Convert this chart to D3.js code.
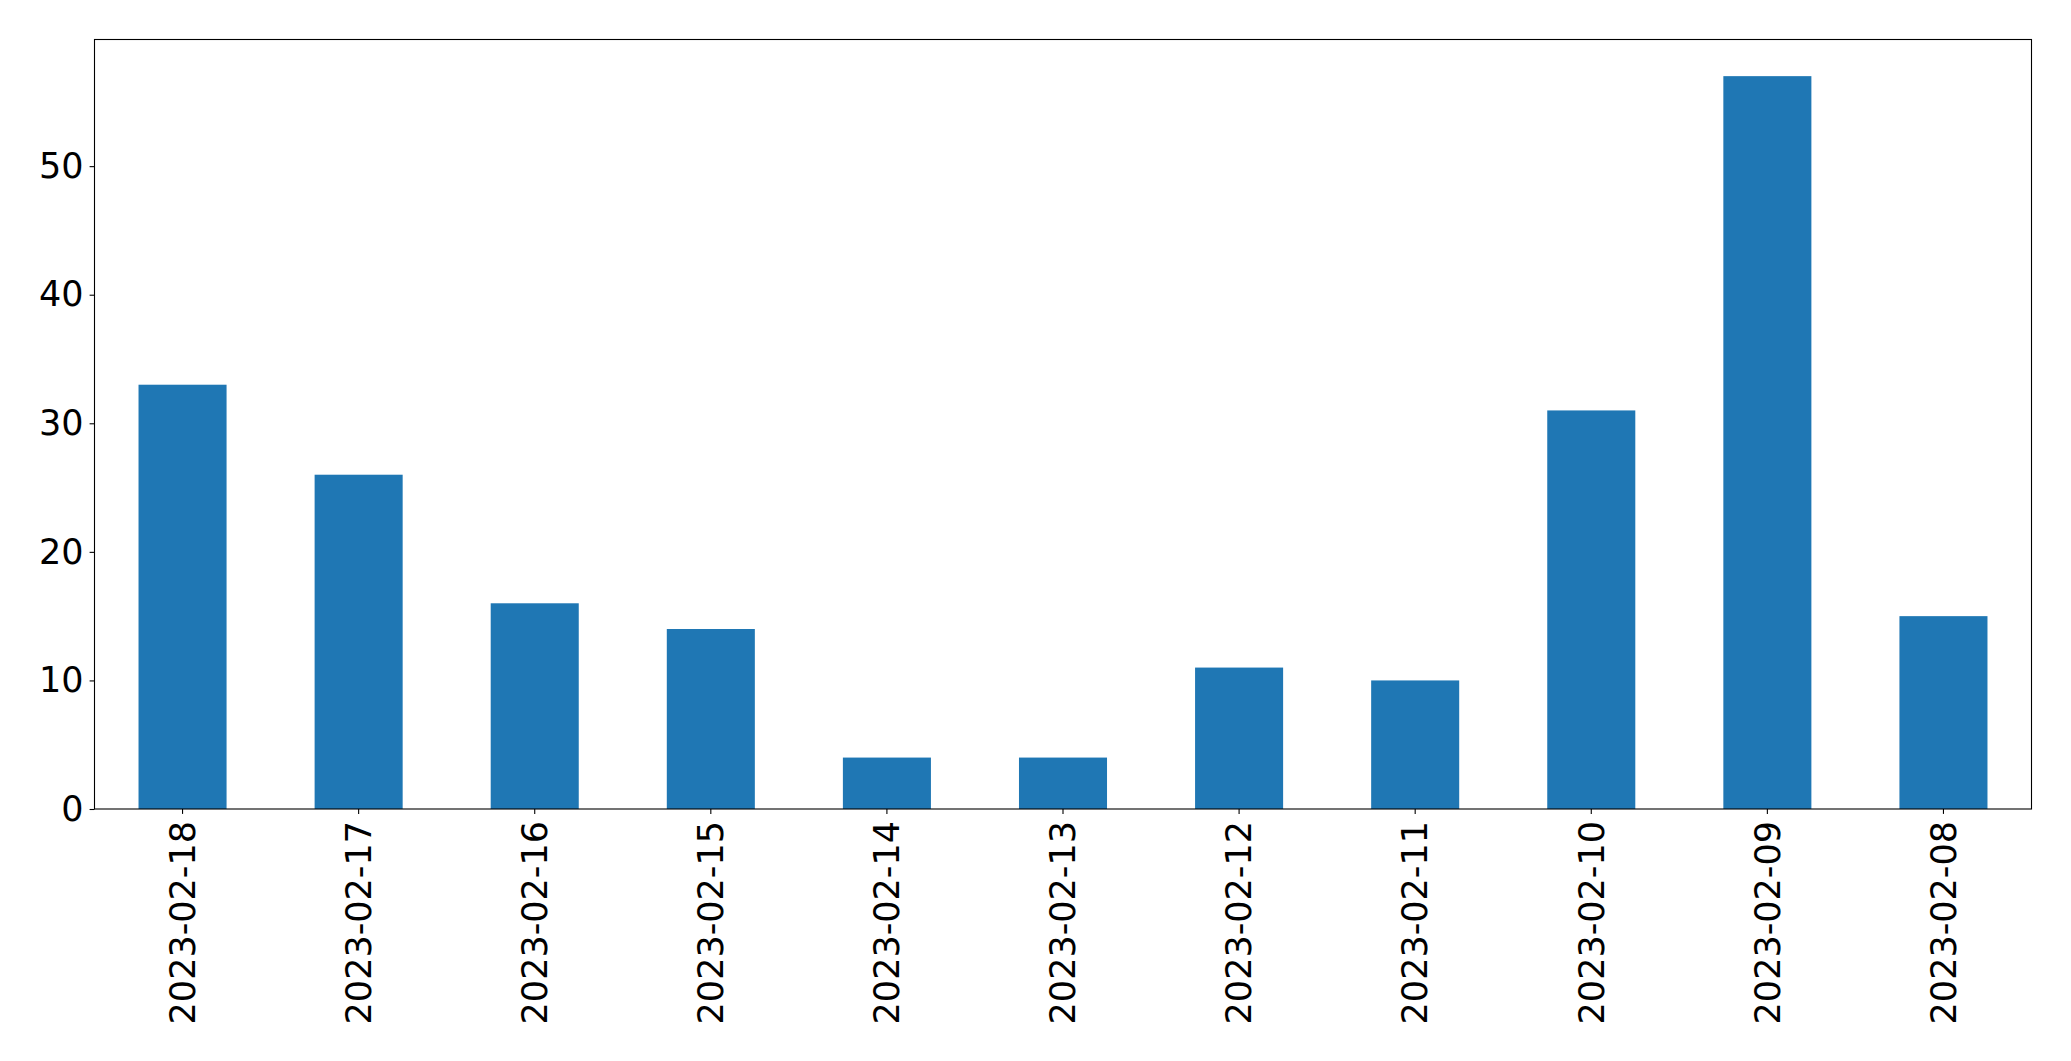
<!DOCTYPE html>
<html>
<head>
<meta charset="utf-8">
<script src="https://cdn.jsdelivr.net/npm/d3@7"></script>
<style>
  html, body { margin: 0; padding: 0; background: #fff; }
  svg { display: block; }
</style>
</head>
<body>
<svg id="chart" width="2071" height="1061"></svg>
<script>
const categories = ["2023-02-18","2023-02-17","2023-02-16","2023-02-15","2023-02-14","2023-02-13","2023-02-12","2023-02-11","2023-02-10","2023-02-09","2023-02-08"];
const values = [33, 26, 16, 14, 4, 4, 11, 10, 31, 57, 15];
const yTicks = [0, 10, 20, 30, 40, 50];

const margin = {left: 94.5, top: 39.5, right: 2071 - 2031.5, bottom: 1061 - 809};
const W = 2071, H = 1061;
const svg = d3.select("#chart");
const iw = W - margin.left - margin.right;
const ih = H - margin.top - margin.bottom;

const g = svg.append("g").attr("transform", `translate(${margin.left},${margin.top})`);

const x = d3.scaleBand().domain(categories).range([0, iw]).paddingInner(0.5).paddingOuter(0.25);
const y = d3.scaleLinear().domain([0, d3.max(values) * 1.05]).range([ih, 0]);

g.selectAll("rect.bar").data(values).enter().append("rect")
  .attr("class", "bar")
  .attr("x", (d, i) => x(categories[i]))
  .attr("width", x.bandwidth())
  .attr("y", d => y(d))
  .attr("height", d => ih - y(d))
  .attr("fill", "#1f77b4");

const fontFam = "'DejaVu Sans', sans-serif";
const fs = 35;

const yAxis = g.append("g").call(d3.axisLeft(y).tickValues(yTicks).tickSize(4.9).tickPadding(6).tickFormat(d3.format("d")));
yAxis.select(".domain").remove();
yAxis.selectAll("line").attr("stroke", "#000").attr("stroke-width", 1.1);
yAxis.selectAll("text").attr("font-family", fontFam).attr("font-size", fs).attr("fill", "#000");

const xAxis = g.append("g").attr("transform", `translate(0,${ih})`).call(d3.axisBottom(x).tickSize(4.9).tickPadding(0));
xAxis.select(".domain").remove();
xAxis.selectAll("line").attr("stroke", "#000").attr("stroke-width", 1.1);
xAxis.selectAll("text")
  .attr("font-family", fontFam).attr("font-size", fs).attr("fill", "#000")
  .attr("transform", "translate(0,12) rotate(-90)")
  .attr("x", 0).attr("y", 0).attr("dy", "0.35em")
  .attr("text-anchor", "end");

g.append("rect").attr("x", 0).attr("y", 0).attr("width", iw).attr("height", ih)
  .attr("fill", "none").attr("stroke", "#000").attr("stroke-width", 1.1);
</script>
</body>
</html>
